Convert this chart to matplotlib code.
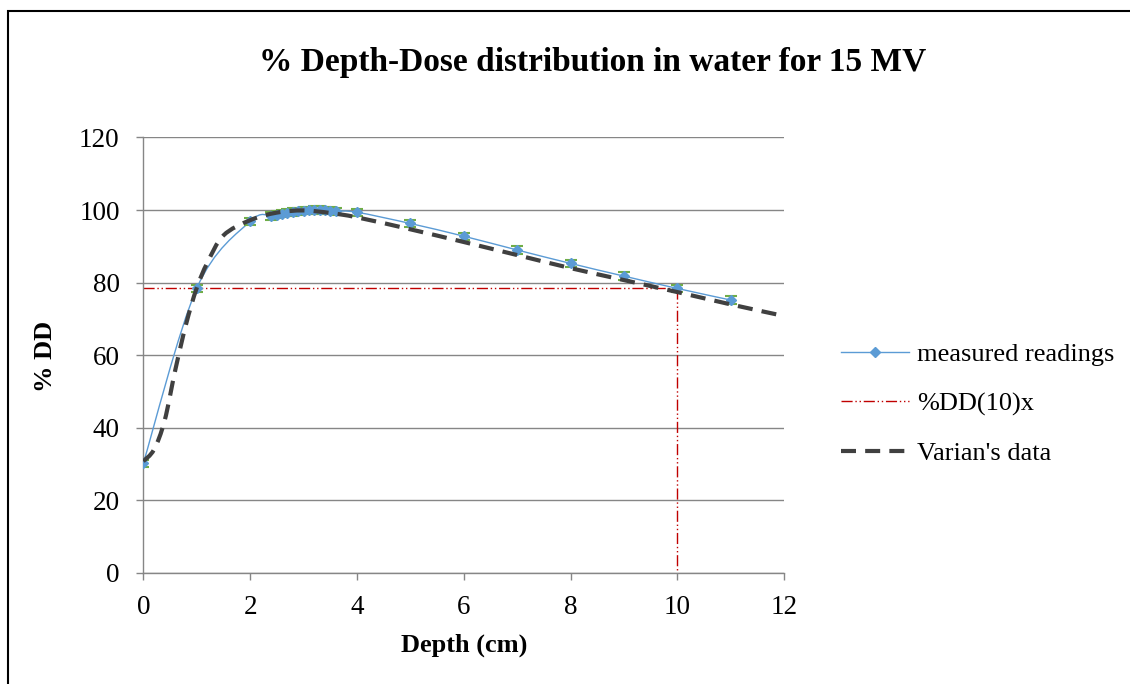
import numpy as np
import matplotlib
matplotlib.use("Agg")
import matplotlib.pyplot as plt
from matplotlib.path import Path
from matplotlib.patches import PathPatch, Rectangle
from matplotlib.lines import Line2D

plt.rcParams['font.family'] = ['Liberation Serif', 'DejaVu Serif']

# measured readings (depth in cm, % depth dose)
depth_meas = [0, 1, 2, 2.4, 2.5, 2.6, 2.7, 2.8, 2.9, 3.0, 3.1, 3.2, 3.3, 3.4, 3.5, 3.6,
              4, 5, 6, 7, 8, 9, 10, 11]
dd_meas = [30.2, 78.4, 96.9, 98.4, 98.7, 99.0, 99.3, 99.5, 99.7, 99.8, 99.9, 100.0,
           100.0, 99.9, 99.8, 99.7, 99.4, 96.3, 92.8, 89.0, 85.3, 81.8, 78.4, 75.2]
dd_err = 1.0

# Varian's reference data
depth_var = [0, 0.2, 0.4, 0.6, 0.8, 1, 1.2, 1.5, 2, 2.5, 3, 3.5, 4, 5, 6, 7, 8, 9, 10, 11, 12]
dd_var = [30.8, 34, 42, 56, 68.5, 78.5, 85.5, 93, 97.2, 99.3, 99.9, 99.2, 98, 94.7,
          91.2, 87.6, 84, 80.7, 77.4, 74, 70.8]

# %DD(10)x marker
d10 = 10
dd10 = 78.4

blue = '#5B9BD5'
green = '#70AD47'
dark = '#404040'
red = '#C00000'
grey = '#868686'


def smooth_path(xs, ys):
    # catmull-rom style bezier through the points (like a spreadsheet smoothed line)
    pts = np.column_stack([xs, ys]).astype(float)
    verts = [pts[0]]
    codes = [Path.MOVETO]
    n = len(pts)
    for i in range(n - 1):
        p0 = pts[i - 1] if i > 0 else pts[i]
        p1 = pts[i]
        p2 = pts[i + 1]
        p3 = pts[i + 2] if i + 2 < n else pts[i + 1]
        c1 = p1 + (p2 - p0) / 6.0
        c2 = p2 - (p3 - p1) / 6.0
        verts += [c1, c2, p2]
        codes += [Path.CURVE4] * 3
    return Path(verts, codes)


fig = plt.figure(figsize=(11.3, 6.84), dpi=100)
ax = fig.add_axes([0.1268, 0.1623, 0.5672, 0.6367])

# grid
ax.set_axisbelow(True)
ax.yaxis.grid(True, color=grey, lw=1)

# measured readings
ax.add_patch(PathPatch(smooth_path(depth_meas, dd_meas), fill=False, ec=blue, lw=1.0, zorder=3))
ax.errorbar(depth_meas, dd_meas, yerr=dd_err, fmt='none', ecolor=green, elinewidth=1.2,
            capsize=4.5, capthick=1.5, zorder=3)
ax.plot(depth_meas, dd_meas, ls='none', marker='D', ms=5.5, color=blue, zorder=4)

# %DD(10)x guide lines
ddx_style = dict(color=red, lw=1.0, ls=(0, (8, 2, 1, 2, 1, 2)), zorder=2)
ax.plot([0, d10], [dd10, dd10], **ddx_style)
ax.plot([d10, d10], [dd10, 0], **ddx_style)

# Varian's data
ax.add_patch(PathPatch(smooth_path(depth_var, dd_var), fill=False, ec=dark, lw=3.0,
                       ls=(0, (3.6, 2.2)), zorder=5))

ax.set_xlim(0, 12)
ax.set_ylim(0, 120)
ax.set_xticks(range(0, 13, 2))
ax.set_yticks(range(0, 121, 20))
for s in ['top', 'right']:
    ax.spines[s].set_visible(False)
for s in ['left', 'bottom']:
    ax.spines[s].set_color(grey)
    ax.spines[s].set_linewidth(1)
ax.tick_params(axis='both', colors=grey, length=5, width=1, labelsize=19.5,
               labelcolor='black', pad=12)
ax.tick_params(axis='x', pad=11)

fig.text(593 / 1130, 1 - 63 / 684, '% Depth-Dose distribution in water for 15 MV', ha='center',
         va='center', fontsize=24, fontweight='bold')
fig.text(464 / 1130, 1 - 645 / 684, 'Depth (cm)', ha='center', va='center',
         fontsize=19, fontweight='bold')
fig.text(46 / 1130, 1 - 356 / 684, '% DD', ha='center', va='center', rotation=90,
         fontsize=19, fontweight='bold')

handles = [
    Line2D([], [], color=blue, lw=1.0, marker='D', ms=5.5),
    Line2D([], [], **ddx_style),
    Line2D([], [], color=dark, lw=3.0, ls=(0, (3.6, 2.2))),
]
labels = ['measured readings', '%DD(10)x', "Varian's data"]
fig.legend(handles, labels, loc='center left', bbox_to_anchor=(817 / 1130, 1 - 404 / 684),
           frameon=False, fontsize=19, handlelength=2.6, handletextpad=0.3,
           labelspacing=0.98)

# chart border
fig.add_artist(Rectangle((8 / 1130, -0.02), 1.05, 1 - 11 / 684 + 0.02, transform=fig.transFigure,
                         fill=False, ec='black', lw=1.5))

fig.savefig('out.png', dpi=100)
